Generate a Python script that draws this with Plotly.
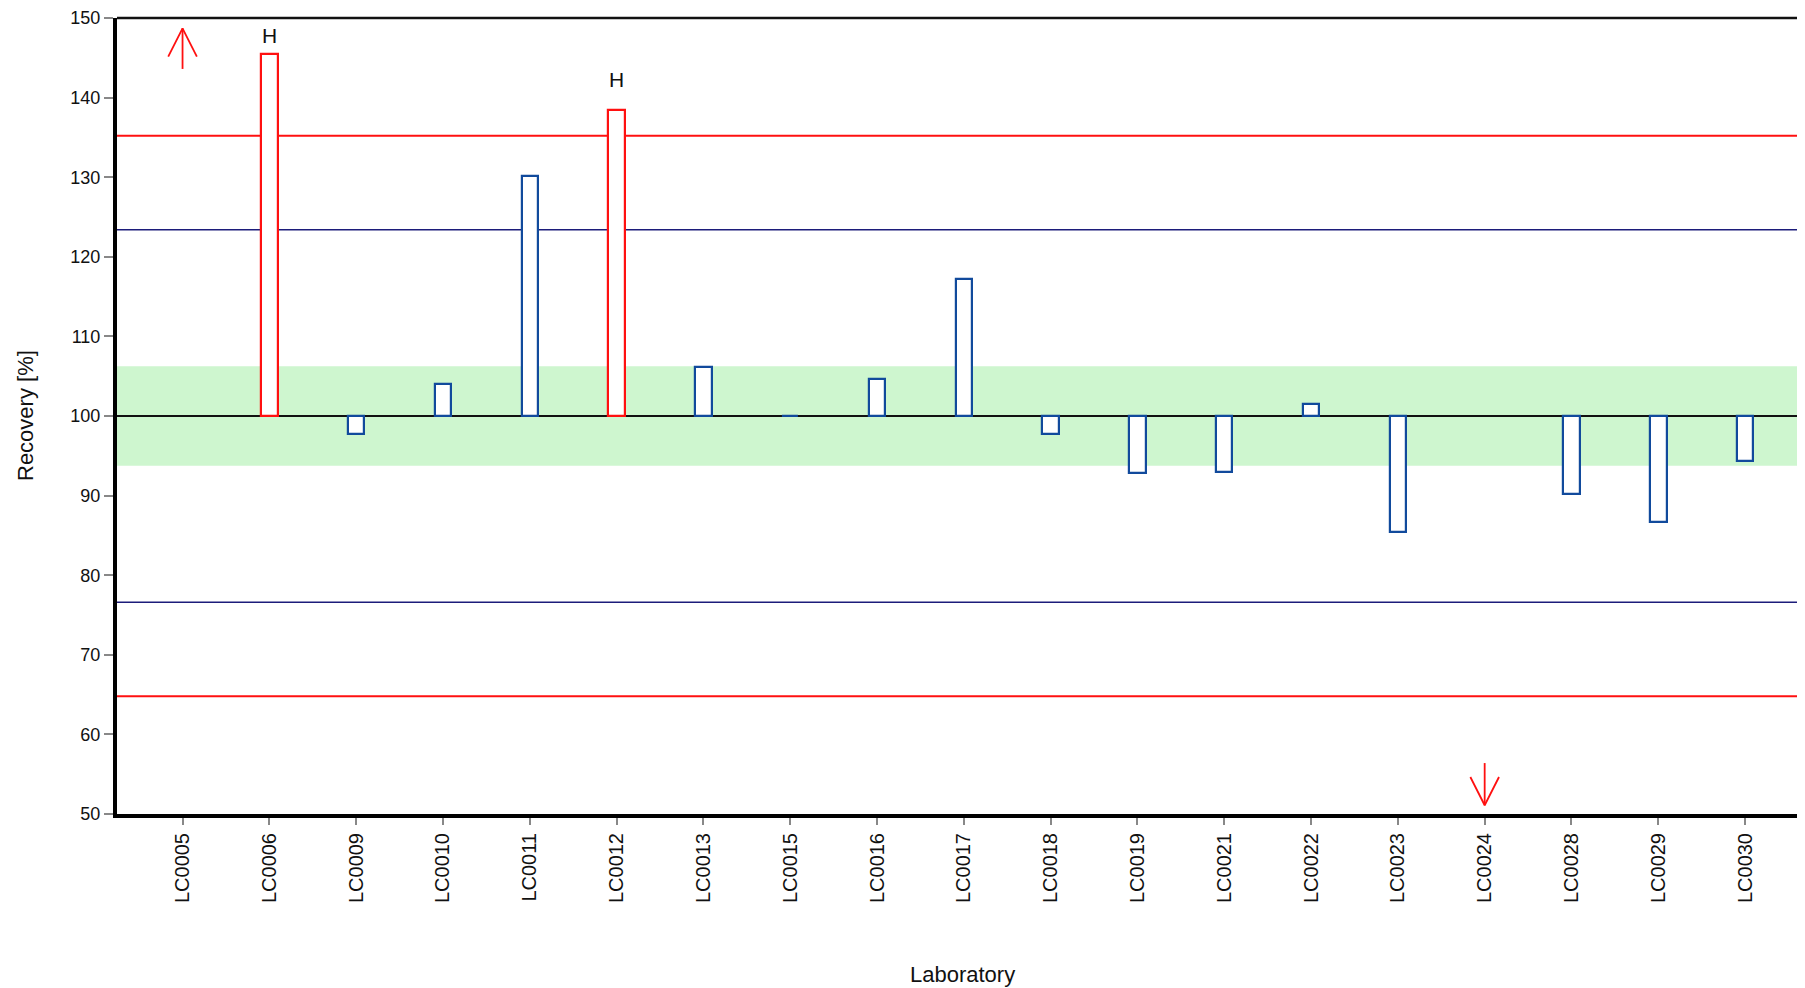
import plotly.graph_objects as go

# ---------------- data ----------------
labs = ["LC0005", "LC0006", "LC0009", "LC0010", "LC0011", "LC0012", "LC0013",
        "LC0015", "LC0016", "LC0017", "LC0018", "LC0019", "LC0021", "LC0022",
        "LC0023", "LC0024", "LC0028", "LC0029", "LC0030"]
# recovery [%]; None = off scale (shown with an arrow)
recovery = [None, 145.5, 97.7, 104.0, 130.2, 138.4, 106.2,
            100.05, 104.7, 117.2, 97.7, 92.8, 93.0, 101.5,
            85.4, None, 90.2, 86.7, 94.4]
flag = ["", "H", "", "", "", "H", "", "", "", "", "", "", "", "", "", "", "", "", ""]
off_scale_up = ["LC0005"]
off_scale_down = ["LC0024"]

target = 100.0
band_half = 6.25          # green acceptance band
warn_half = 23.4          # navy lines
action_half = 35.2        # red lines
y_min, y_max = 50, 150
y_ticks = list(range(50, 151, 10))

BLUE = "#114a9c"
RED = "#ff1010"
NAVY = "#1c1c7a"

# page body has an 8px margin; compensate so the plot lands where the reference has it
BODY = 8
W, H = 1805, 988
PL, PT, PR, PB = 117, 18, 1805, 814   # plot edges in window pixels

fig = go.Figure()

idx = list(range(len(labs)))
bx, by, bcol = [], [], []
for i, v in enumerate(recovery):
    if v is None:
        continue
    bx.append(i)
    by.append(v - target)
    bcol.append(RED if flag[i] else BLUE)

fig.add_trace(go.Bar(
    x=bx, y=by, base=target, width=0.19,
    marker=dict(color="white", line=dict(color=bcol, width=2.2)),
    showlegend=False, hoverinfo="skip"))

# off-scale arrows
def arrow(i, up):
    if up:
        tip, tail = y_max - 1.3, y_max - 6.4
        wing = tip - 3.55
    else:
        tip, tail = y_min + 1.1, y_min + 6.4
        wing = tip + 3.55
    return ([i, i, None, i - 0.165, i, i + 0.165],
            [tail, tip, None, wing, tip, wing])

for name in off_scale_up + off_scale_down:
    i = labs.index(name)
    ax_, ay_ = arrow(i, name in off_scale_up)
    fig.add_trace(go.Scatter(x=ax_, y=ay_, mode="lines",
                             line=dict(color=RED, width=1.8),
                             showlegend=False, hoverinfo="skip"))

# flags above bars
for i, f in enumerate(flag):
    if f and recovery[i] is not None:
        hy = min(recovery[i] + 3.9, y_max - 2.26)
        fig.add_annotation(x=i, y=hy, text=f, showarrow=False,
                           font=dict(family="Liberation Sans, Arial", size=21, color="#111"),
                           xanchor="center", yanchor="middle")

# reference band and lines
fig.add_shape(type="rect", xref="paper", x0=0, x1=1, yref="y",
              y0=target - band_half, y1=target + band_half,
              fillcolor="#cef6cf", line=dict(width=0), layer="below")
for yv, col, w in [(target + action_half, RED, 2), (target - action_half, RED, 2),
                   (target + warn_half, NAVY, 1.6), (target - warn_half, NAVY, 1.6),
                   (target, "#111", 2)]:
    fig.add_shape(type="line", xref="paper", x0=0, x1=1, yref="y", y0=yv, y1=yv,
                  line=dict(color=col, width=w), layer="below")
# top frame line
fig.add_shape(type="line", xref="paper", x0=0, x1=1, yref="paper", y0=1, y1=1,
              line=dict(color="#111", width=2.5))

xtick_font = dict(family="Liberation Sans, Arial", size=20, color="#111")
ytick_font = dict(family="Liberation Sans, Arial", size=18, color="#111")
fig.update_xaxes(
    range=[-0.755, 18.69], tickmode="array", tickvals=idx, ticktext=labs,
    tickangle=-90, tickfont=xtick_font, ticks="outside", ticklen=7, tickwidth=2,
    tickcolor="#888", showline=True, linecolor="#000", linewidth=4,
    showgrid=False, zeroline=False, fixedrange=True)
fig.update_yaxes(
    range=[y_min, y_max], tickmode="array", tickvals=y_ticks,
    tickfont=ytick_font, ticks="outside", ticklen=9, tickwidth=2,
    tickcolor="#888", showline=True, linecolor="#000", linewidth=4,
    showgrid=False, zeroline=False, fixedrange=True)

title_font = dict(family="Liberation Sans, Arial", size=22, color="#111")
fig.add_annotation(text="Laboratory", xref="paper", yref="paper",
                   x=(962 - PL) / (PR - PL),
                   y=0, yshift=-(974 - PB), showarrow=False, font=title_font,
                   xanchor="center", yanchor="middle")
fig.add_annotation(text="Recovery [%]", xref="paper", yref="paper", x=0,
                   xshift=-(PL - 25), y=0.5, textangle=-90, showarrow=False,
                   font=title_font, xanchor="center", yanchor="middle")

fig.update_layout(
    width=W - BODY, height=H - BODY,
    margin=dict(l=PL - BODY, r=W - PR, t=PT - BODY, b=H - PB, autoexpand=False),
    paper_bgcolor="white", plot_bgcolor="white",
    showlegend=False, bargap=0,
)

fig.write_html("out.html", config={"displayModeBar": False})
